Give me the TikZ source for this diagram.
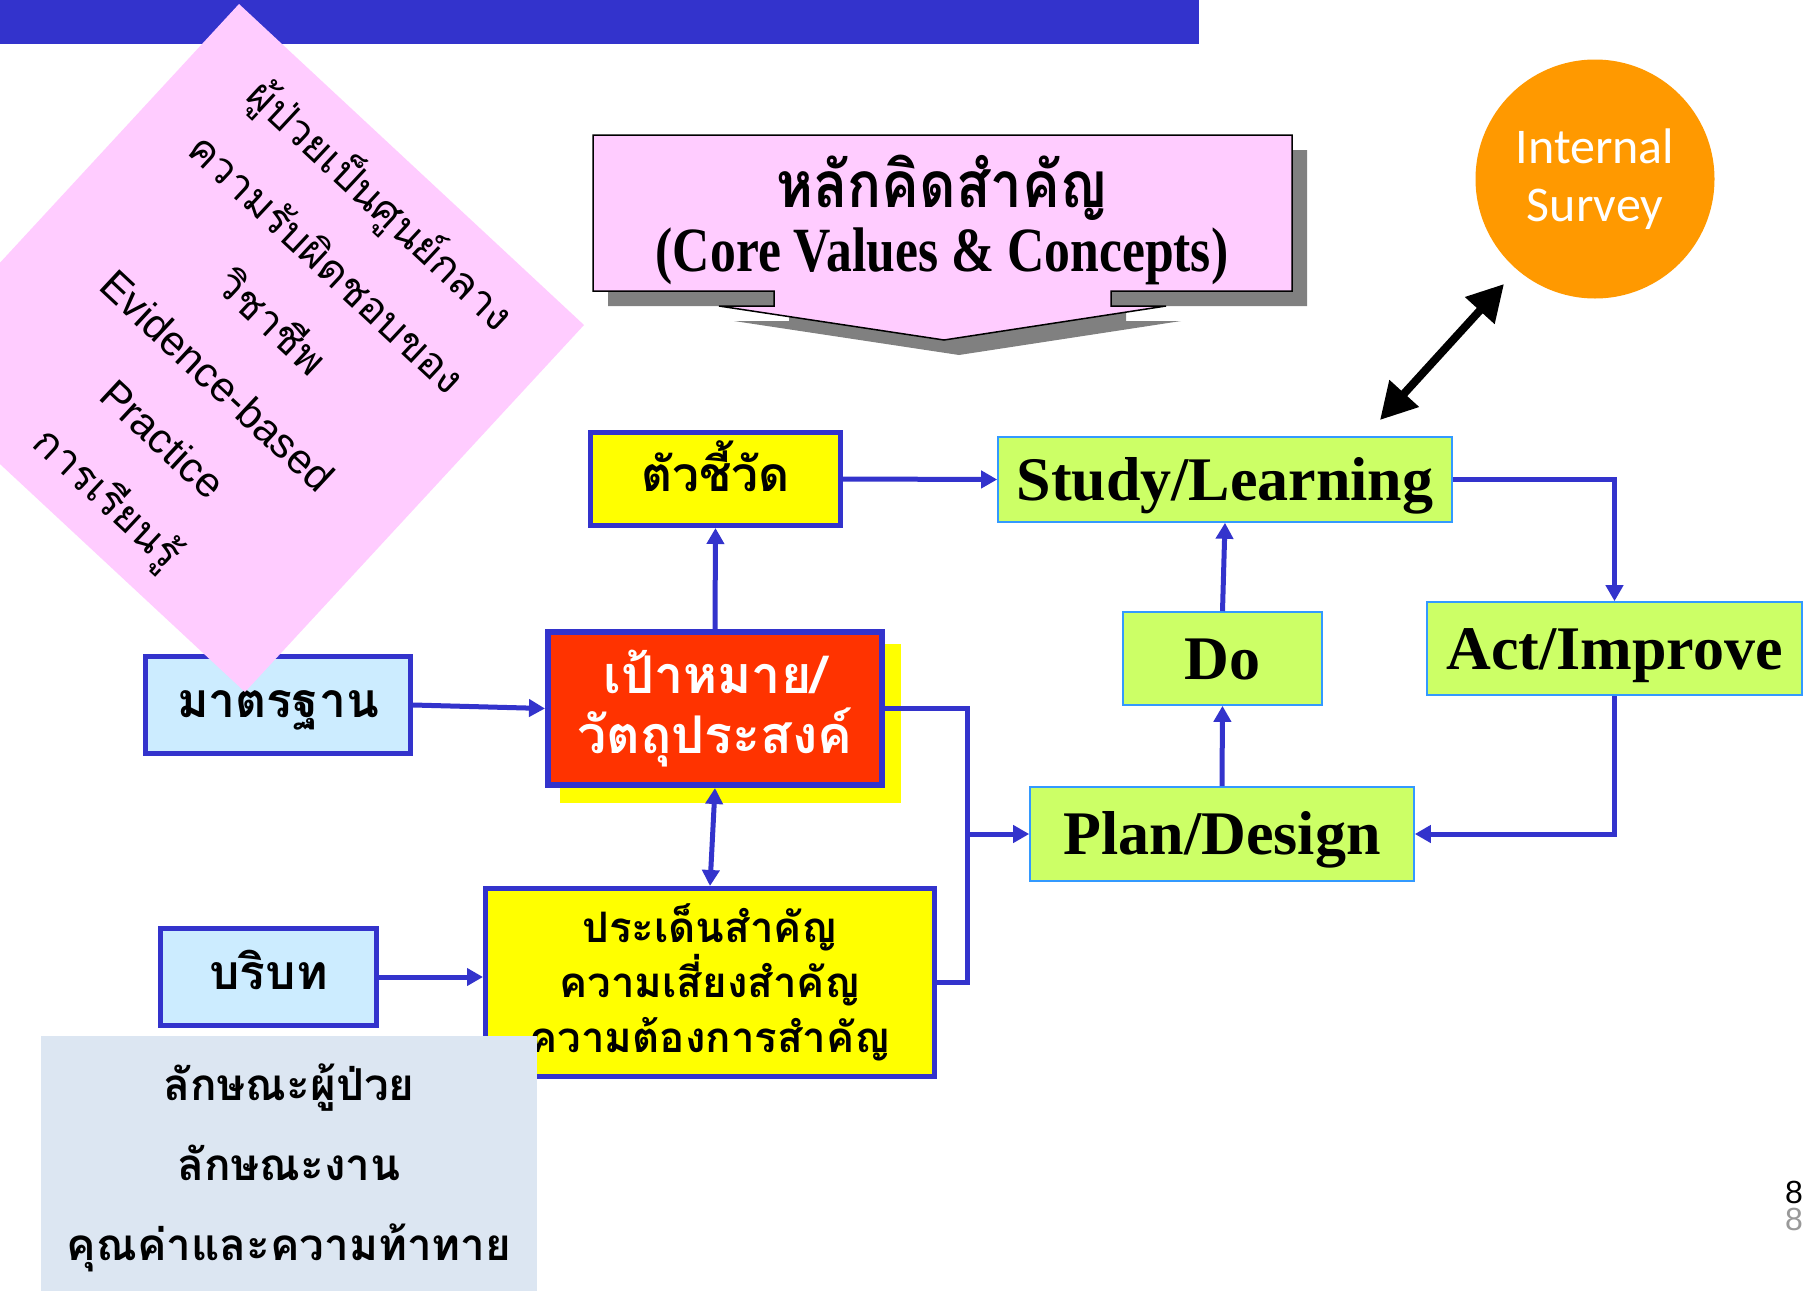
\documentclass[tikz,border=0pt]{standalone}
\usepackage{fontspec}
\usepackage{graphicx}
\setmainfont{Liberation Serif}
\newfontfamily\thai[Script=Thai]{Loma}
\newfontfamily\tnr{Liberation Serif}
\newfontfamily\carl{Carlito}
\newfontfamily\arl{Liberation Sans}
\usetikzlibrary{arrows.meta,calc}
\definecolor{barblue}{HTML}{3333CC}
\definecolor{pinkd}{HTML}{FFCCFF}
\definecolor{greenbox}{HTML}{CCFF66}
\definecolor{greenedge}{HTML}{3399FF}
\definecolor{lightblue}{HTML}{CCECFF}
\definecolor{grayblue}{HTML}{DCE6F2}
\definecolor{orangec}{HTML}{FF9900}
\definecolor{redbox}{HTML}{FF3300}
\definecolor{shadowgray}{HTML}{808080}
\definecolor{yel}{HTML}{FFFF00}
\tikzset{
  conn/.style={draw=barblue, line width=5pt},
  arr/.style={conn, -{Triangle[length=16pt,width=17pt]}},
  dblarr/.style={conn, {Triangle[length=16pt,width=17pt]}-{Triangle[length=16pt,width=17pt]}},
  bbox/.style={draw=barblue, line width=5pt, inner sep=0pt, align=center},
  thaibold/.style={font=\thai\bfseries\fontsize{#1}{60}\selectfont, text height=25pt, text depth=0pt},
  gbox/.style={draw=greenedge, line width=1.6pt, fill=greenbox, inner sep=0pt,
    text height=41pt, text depth=0pt, font=\tnr\bfseries\fontsize{62}{70}\selectfont},
}
\begin{document}
\begin{tikzpicture}[x=1pt,y=-1pt]
\clip (0,0) rectangle (1808,1291);
\fill[white] (0,0) rectangle (1808,1291);
% top bar
\fill[barblue] (0,0) rectangle (1199,44);
% core values callout
\fill[shadowgray, shift={(15,15)}] (593,135) -- (1292,135) -- (1292,291) -- (1111,291) -- (1111,306)
  -- (1166,306) -- (944,340) -- (719,306) -- (774,306) -- (774,291) -- (593,291) -- cycle;
\filldraw[fill=pinkd, draw=black, line width=1.5pt] (593,135) -- (1292,135) -- (1292,291) -- (1111,291) -- (1111,306)
  -- (1166,306) -- (944,340) -- (719,306) -- (774,306) -- (774,291) -- (593,291) -- cycle;
\node[font=\thai\bfseries\fontsize{64}{70}\selectfont] (cvt) at (942,188) {\scalebox{0.88}[1]{หลักคิดสำคัญ}};
\node[font=\tnr\bfseries\fontsize{63}{70}\selectfont] (cvl) at (942,256) {\scalebox{0.82}[1]{(Core Values \& Concepts)}};
% standard box (under the diamond)
\node[bbox, fill=lightblue, minimum width=265pt, minimum height=97pt, thaibold=48] (std) at (278,705) {มาตรฐาน};
% pink diamond
\fill[pinkd] (239,4) -- (584,325) -- (245,692) -- (-100,371) -- cycle;
\node[rotate=-43, align=center, font=\thai\fontsize{42}{80}\selectfont] (dtext) at (244,352)
  {ผู้ป่วยเป็นศูนย์กลาง\\ความรับผิดชอบของ\\วิชาชีพ\\{\arl Evidence-based}\\{\arl Practice}\\การเรียนรู้};
% indicator
\node[bbox, fill=yel, minimum width=250pt, minimum height=93pt, thaibold=48] (ind) at (715.5,479) {ตัวชี้วัด};
% goal box with yellow shadow
\fill[yel] (560,644) rectangle (901,803);
\node[bbox, line width=6pt, fill=redbox, text=white, minimum width=334pt, minimum height=153pt,
  font=\thai\bfseries\fontsize{52}{60}\selectfont] (goal) at (715,708.5) {เป้าหมาย/\\วัตถุประสงค์};
% context
\node[bbox, fill=lightblue, minimum width=216pt, minimum height=97pt, thaibold=48] (ctx) at (268.5,977) {บริบท};
% issues
\node[bbox, fill=yel, minimum width=449pt, minimum height=188pt,
  font=\thai\bfseries\fontsize{42}{55}\selectfont] (iss) at (710,982.5) {ประเด็นสำคัญ\\ความเสี่ยงสำคัญ\\ความต้องการสำคัญ};
% green PDSA boxes
\node[gbox, minimum width=454pt, minimum height=85pt] (study) at (1225,479.5) {Study/Learning};
\node[gbox, minimum width=199pt, minimum height=93pt] (do) at (1222.5,658.5) {Do};
\node[gbox, minimum width=375pt, minimum height=93pt] (act) at (1614.5,648.5) {Act/Improve};
\node[gbox, minimum width=384pt, minimum height=94pt] (plan) at (1222,834) {Plan/Design};
% internal survey
\node[circle, fill=orangec, minimum size=239pt, inner sep=0pt, text=white, align=center,
  font=\carl\fontsize{50}{58}\selectfont] (surv) at (1595,179) {Internal\\Survey};
\coordinate (sa) at (1504,284);
\coordinate (sb) at (1380,420);
\draw[line width=8pt, {Triangle[length=36pt,width=38pt]}-{Triangle[length=36pt,width=38pt]}] (sa) -- (sb);
% connectors
\coordinate (jx) at (967,834);
\draw[arr] (goal.north) -- (ind.south);
\draw[arr] (ind.east) -- (study.west);
\draw[arr] (std.east) -- (goal.west);
\draw[arr] (ctx.east) -- (ctx.east -| iss.west);
\draw[dblarr] (goal.south) -- (iss.north);
\draw[conn] (goal.east) -| (jx) |- (iss.east);
\draw[arr] (jx) -- (plan.west);
\draw[arr] (plan.north) -- (do.south);
\draw[arr] (do.north) -- (study.south);
\draw[arr] (study.east) -| (act.north);
\draw[arr] (act.south) |- (plan.east);
% characteristics box
\node[fill=grayblue, minimum width=496pt, minimum height=264pt, inner sep=0pt, align=center,
  font=\thai\bfseries\fontsize{44}{80}\selectfont] (chr) at (289,1168) {ลักษณะผู้ป่วย\\ลักษณะงาน\\คุณค่าและความท้าทาย};
% page numbers
\node[font=\arl\fontsize{32}{36}\selectfont] (pg1) at (1794,1192) {8};
\node[font=\arl\fontsize{32}{36}\selectfont, text=black!40] (pg2) at (1794,1219) {8};
\end{tikzpicture}
\end{document}
